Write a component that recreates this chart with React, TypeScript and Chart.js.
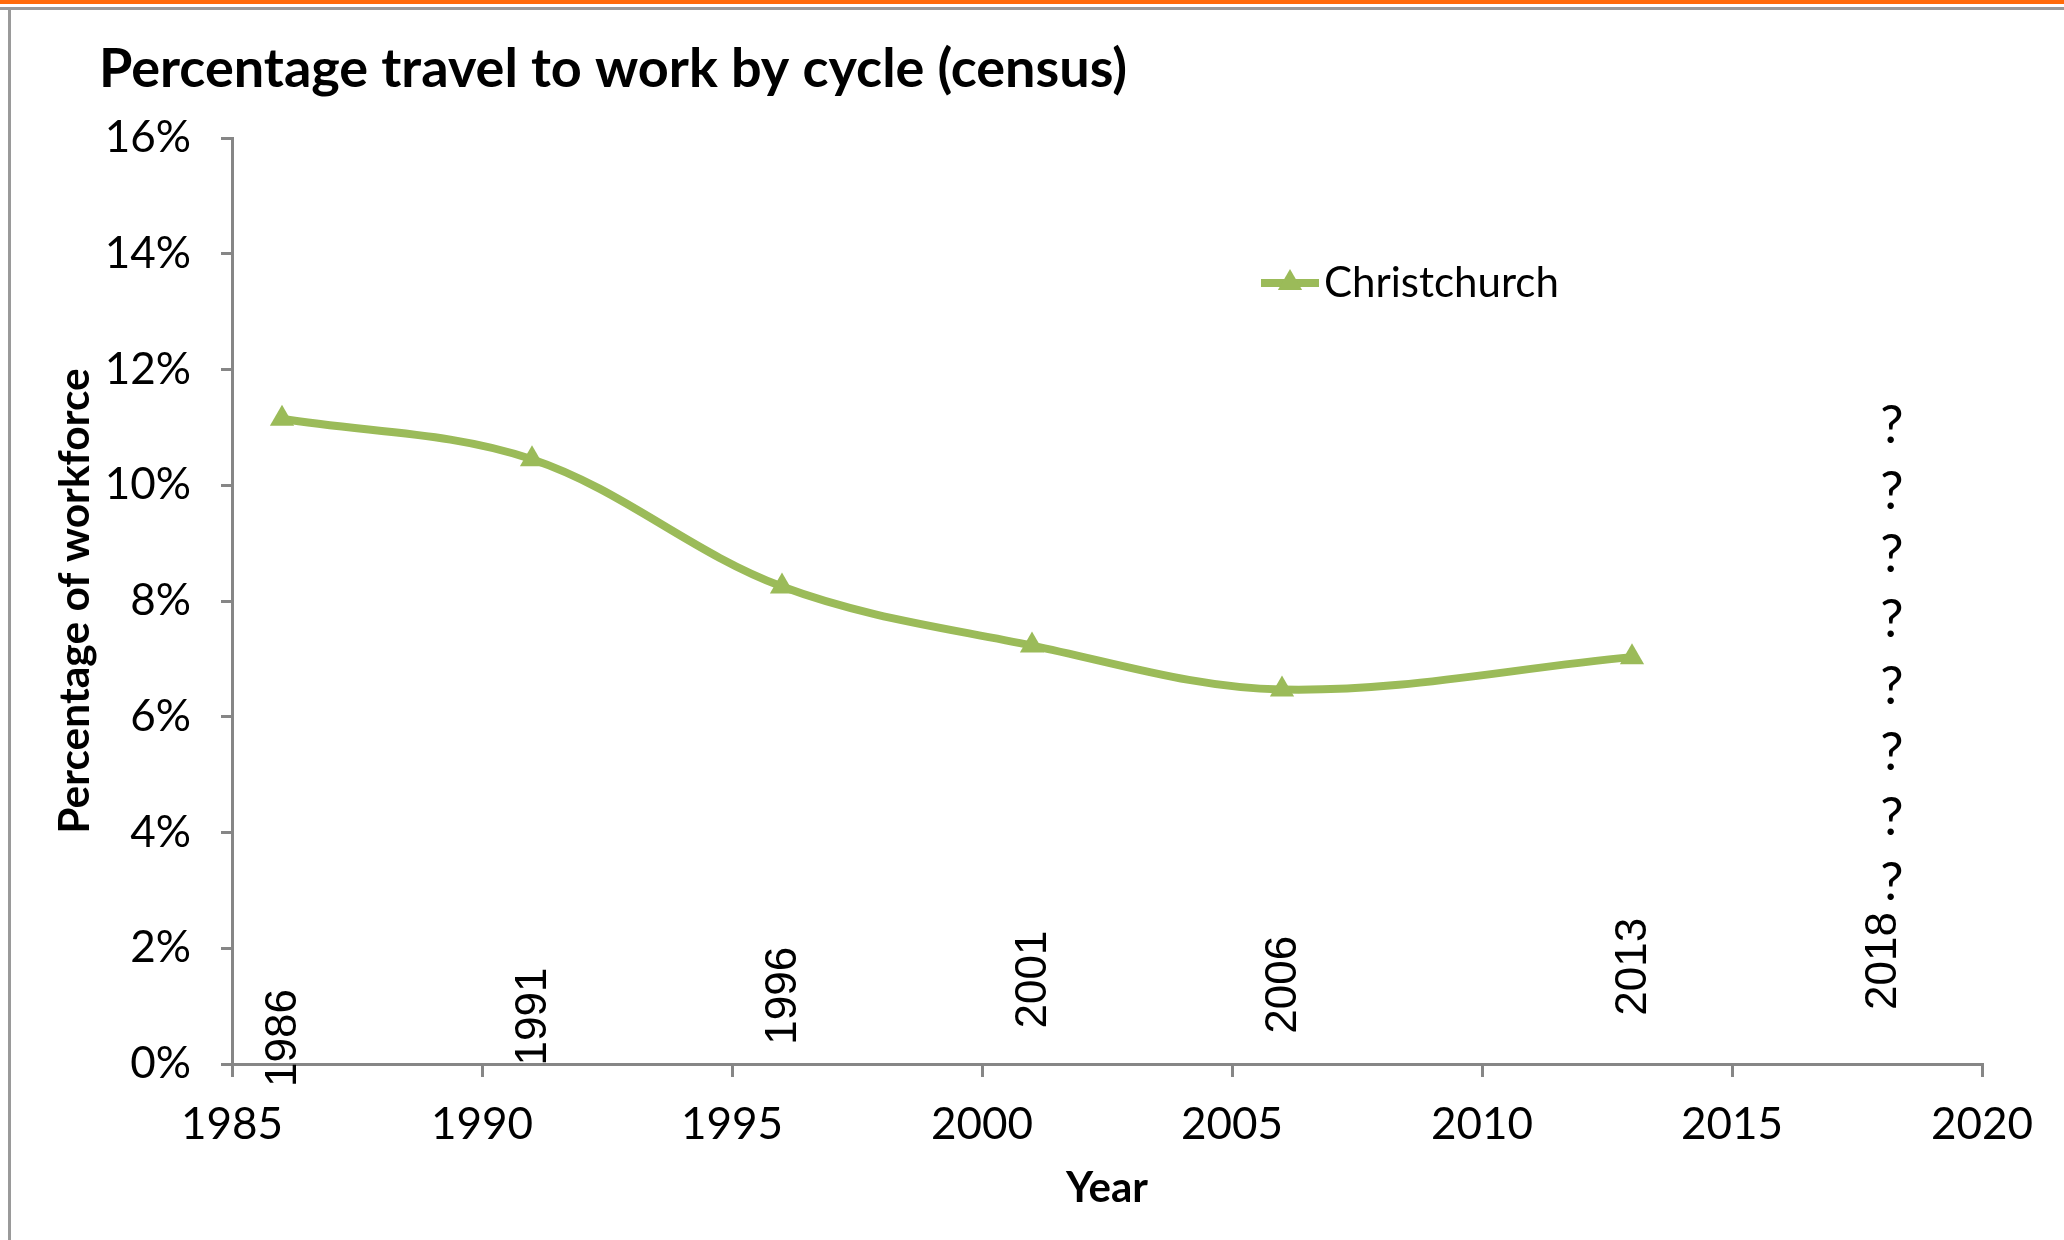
import React, { useEffect, useRef } from 'react';
import { Chart, registerables } from 'chart.js';
Chart.register(...registerables);

// ---- data ----
const censusYears = [1986, 1991, 1996, 2001, 2006, 2013];
const christchurchPct = [11.15, 10.45, 8.25, 7.23, 6.47, 7.03];
const yearLabelYears = [1986, 1991, 1996, 2001, 2006, 2013, 2018];
const yearLabelLevels = [0.45, 0.82, 1.18, 1.46, 1.37, 1.68, 1.78];
const unknownYear = 2018;
const unknownLevels = [11.1, 9.97, 8.88, 7.75, 6.6, 5.46, 4.33, 3.21];
const xMin = 1985;
const xMax = 2020;
const xStep = 5;
const yMin = 0;
const yMax = 16;
const yStep = 2;

const TITLE = 'Percentage travel to work by cycle (census)';
const SERIES = 'Christchurch';
const GREEN = '#9BBB59';
const AXIS = '#868686';
const SANS = 'Lato, "Noto Sans", sans-serif';

const decorPlugin = {
  id: 'decor',
  beforeDraw(chart: any) {
    const { ctx, width, height } = chart;
    ctx.save();
    ctx.fillStyle = '#ffffff';
    ctx.fillRect(0, 0, width, height);
    ctx.fillStyle = '#FF6A0A';
    ctx.fillRect(0, 0, width, 4);
    ctx.fillStyle = '#9A9A9A';
    ctx.fillRect(0, 7, width, 3);
    ctx.fillRect(8, 7, 3, height - 7);
    // chart title
    ctx.fillStyle = '#000';
    ctx.font = `bold 54px ${SANS}`;
    ctx.textAlign = 'left';
    ctx.textBaseline = 'middle';
    ctx.fillText(TITLE, 99, 70);
    ctx.restore();
  },
  afterDatasetsDraw(chart: any) {
    const { ctx } = chart;
    const xs = chart.scales.x;
    const ys = chart.scales.y;
    ctx.save();
    // rotated year labels
    ctx.fillStyle = '#000';
    ctx.font = '44px "Liberation Sans", Arial, sans-serif';
    ctx.textAlign = 'center';
    ctx.textBaseline = 'middle';
    yearLabelYears.forEach((yr, i) => {
      const px = xs.getPixelForValue(yr);
      const py = ys.getPixelForValue(yearLabelLevels[i]);
      ctx.save();
      ctx.translate(px + 2, py);
      ctx.rotate(-Math.PI / 2);
      ctx.fillText(String(yr), 0, 0);
      ctx.restore();
    });
    // question marks
    ctx.font = `52px ${SANS}`;
    unknownLevels.forEach((lv) => {
      ctx.fillText('?', xs.getPixelForValue(unknownYear) + 10, ys.getPixelForValue(lv) + 5);
    });
    // legend
    const ds = chart.data.datasets[0];
    const ly = 283;
    ctx.strokeStyle = ds.borderColor;
    ctx.lineWidth = ds.borderWidth;
    ctx.beginPath();
    ctx.moveTo(1261, ly);
    ctx.lineTo(1319, ly);
    ctx.stroke();
    const r = ds.pointRadius;
    const cx = 1290;
    ctx.fillStyle = ds.pointBackgroundColor;
    ctx.beginPath();
    for (let k = 0; k < 3; k++) {
      const a = -Math.PI / 2 + (k * 2 * Math.PI) / 3;
      const vx = cx + Math.cos(a) * r;
      const vy = ly + Math.sin(a) * r;
      if (k === 0) ctx.moveTo(vx, vy);
      else ctx.lineTo(vx, vy);
    }
    ctx.closePath();
    ctx.fill();
    ctx.fillStyle = '#000';
    ctx.font = `42px ${SANS}`;
    ctx.textAlign = 'left';
    ctx.fillText(ds.label, 1324, ly);
    ctx.restore();
  },
};

export default function App() {
  const ref = useRef<HTMLCanvasElement | null>(null);
  useEffect(() => {
    document.body.style.margin = '0';
    if (!ref.current) return;
    const chart = new Chart(ref.current, {
      type: 'line',
      data: {
        datasets: [
          {
            label: SERIES,
            data: censusYears.map((x, i) => ({ x, y: christchurchPct[i] })),
            borderColor: GREEN,
            backgroundColor: GREEN,
            pointBackgroundColor: GREEN,
            pointBorderColor: GREEN,
            borderWidth: 8,
            pointStyle: 'triangle',
            pointRadius: 14,
            pointBorderWidth: 0,
            tension: 0.35,
            fill: false,
          } as any,
        ],
      },
      options: {
        animation: false,
        responsive: false,
        devicePixelRatio: 1,
        layout: { padding: { left: 0, right: 82, top: 138, bottom: 0 } },
        plugins: {
          legend: { display: false },
          title: { display: false },
          tooltip: { enabled: false },
        },
        scales: {
          x: {
            type: 'linear',
            min: xMin,
            max: xMax,
            afterFit: (s: any) => {
              s.height = 176;
            },
            ticks: {
              stepSize: xStep,
              color: '#000',
              font: { family: SANS, size: 44 },
              padding: 21,
              maxRotation: 0,
              callback: (v: any) => String(v),
            },
            grid: { drawOnChartArea: false, color: AXIS, lineWidth: 3, tickLength: 13 },
            border: { color: AXIS, width: 3 },
            title: {
              display: true,
              text: 'Year',
              color: '#000',
              font: { family: SANS, size: 42, weight: 'bold' },
              padding: { top: 0, bottom: 26 },
            },
          },
          y: {
            type: 'linear',
            min: yMin,
            max: yMax,
            afterFit: (s: any) => {
              s.width = 232;
            },
            ticks: {
              stepSize: yStep,
              color: '#000',
              font: { family: SANS, size: 44 },
              padding: 30,
              callback: (v: any) => `${v}%`,
            },
            grid: { drawOnChartArea: false, color: AXIS, lineWidth: 3, tickLength: 11 },
            border: { color: AXIS, width: 3 },
            title: {
              display: true,
              text: 'Percentage of workforce',
              color: '#000',
              font: { family: SANS, size: 42.5, weight: 'bold' },
              padding: { top: 50, bottom: 0 },
            },
          },
        },
      },
      plugins: [decorPlugin],
    });
    return () => chart.destroy();
  }, []);
  return <canvas ref={ref} width={2064} height={1240} style={{ display: 'block' }} />;
}
